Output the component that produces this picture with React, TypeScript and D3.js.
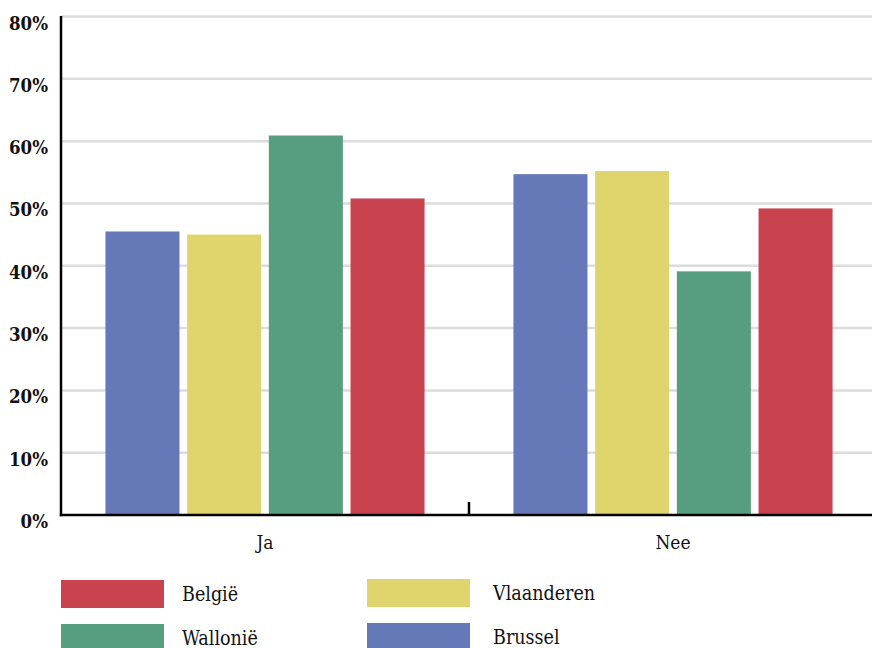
import React, { useEffect } from "react";
import * as d3 from "d3";

const categories = ["Ja", "Nee"];
const seriesNames = ["Brussel", "Vlaanderen", "Wallonië", "België"];
const brussel = [45.5, 54.7];
const vlaanderen = [45.0, 55.2];
const wallonie = [60.9, 39.1];
const belgie = [50.8, 49.2];
const yTicks = [0, 10, 20, 30, 40, 50, 60, 70, 80];
const colors = ["#6579B8", "#DFD46D", "#579E80", "#C9434F"];
const legendOrder = ["België", "Vlaanderen", "Wallonië", "Brussel"];

const W = 872;
const H = 648;
const left = 61;
const right = 877;
const top = 16.5;
const bottom = 515;
const font = "'DejaVu Serif Condensed', 'DejaVu Serif', serif";

export default function App() {
  useEffect(() => {
    document.body.style.margin = "0";
  }, []);
  const values = [brussel, vlaanderen, wallonie, belgie];
  const x0 = d3.scaleBand<string>().domain(categories).range([left, right]).padding(0);
  const x1 = d3
    .scaleBand<string>()
    .domain(seriesNames)
    .range([0, x0.bandwidth()])
    .paddingInner(0.094)
    .paddingOuter(0.544);
  const y = d3.scaleLinear().domain([0, 80]).range([bottom, top]);
  const color = d3.scaleOrdinal<string, string>().domain(seriesNames).range(colors);

  const legendPos = [
    { rx: 61, ry: 580, tx: 182 },
    { rx: 367, ry: 579, tx: 493 },
    { rx: 61, ry: 624, tx: 182 },
    { rx: 367, ry: 623, tx: 493 },
  ];

  return (
    <svg width={W} height={H} style={{ display: "block", position: "absolute", left: 0, top: 0 }}>
      <rect x={0} y={0} width={W} height={H} fill="#fff" />
      {yTicks.slice(1).map((t) => (
        <line key={"g" + t} x1={left} x2={W} y1={y(t)} y2={y(t)} stroke="#dcdcdc" strokeWidth={2.5} />
      ))}
      {categories.map((c, ci) => (
        <g key={c} transform={`translate(${x0(c)},0)`}>
          {seriesNames.map((s, si) => (
            <rect
              key={s}
              x={x1(s)}
              y={y(values[si][ci])}
              width={x1.bandwidth()}
              height={bottom - y(values[si][ci])}
              fill={color(s)}
            />
          ))}
        </g>
      ))}
      <line x1={left} x2={left} y1={top - 0.5} y2={bottom + 1.2} stroke="#000" strokeWidth={2.5} />
      <line x1={left - 1.2} x2={W} y1={bottom} y2={bottom} stroke="#000" strokeWidth={2.5} />
      <line x1={x0("Nee")} x2={x0("Nee")} y1={bottom - 13} y2={bottom} stroke="#000" strokeWidth={2.5} />
      {yTicks.map((t) => (
        <text
          key={"t" + t}
          x={48}
          y={y(t) + 13}
          textAnchor="end"
          fontFamily={font}
          fontStretch="condensed"
          fontSize={18.5}
          fontWeight="bold"
          fill="#111"
        >
          {t + "%"}
        </text>
      ))}
      {categories.map((c) => (
        <text
          key={"c" + c}
          x={(x0(c) as number) + x0.bandwidth() / 2}
          y={549}
          textAnchor="middle"
          fontFamily={font}
          fontStretch="condensed"
          fontSize={19}
          fill="#111"
        >
          {c}
        </text>
      ))}
      {legendOrder.map((name, i) => (
        <g key={"l" + name}>
          <rect x={legendPos[i].rx} y={legendPos[i].ry} width={103} height={28} fill={color(name)} />
          <text
            x={legendPos[i].tx}
            y={legendPos[i].ry + 20.5}
            fontFamily={font}
            fontStretch="condensed"
            fontSize={19.5}
            fill="#111"
          >
            {name}
          </text>
        </g>
      ))}
    </svg>
  );
}
